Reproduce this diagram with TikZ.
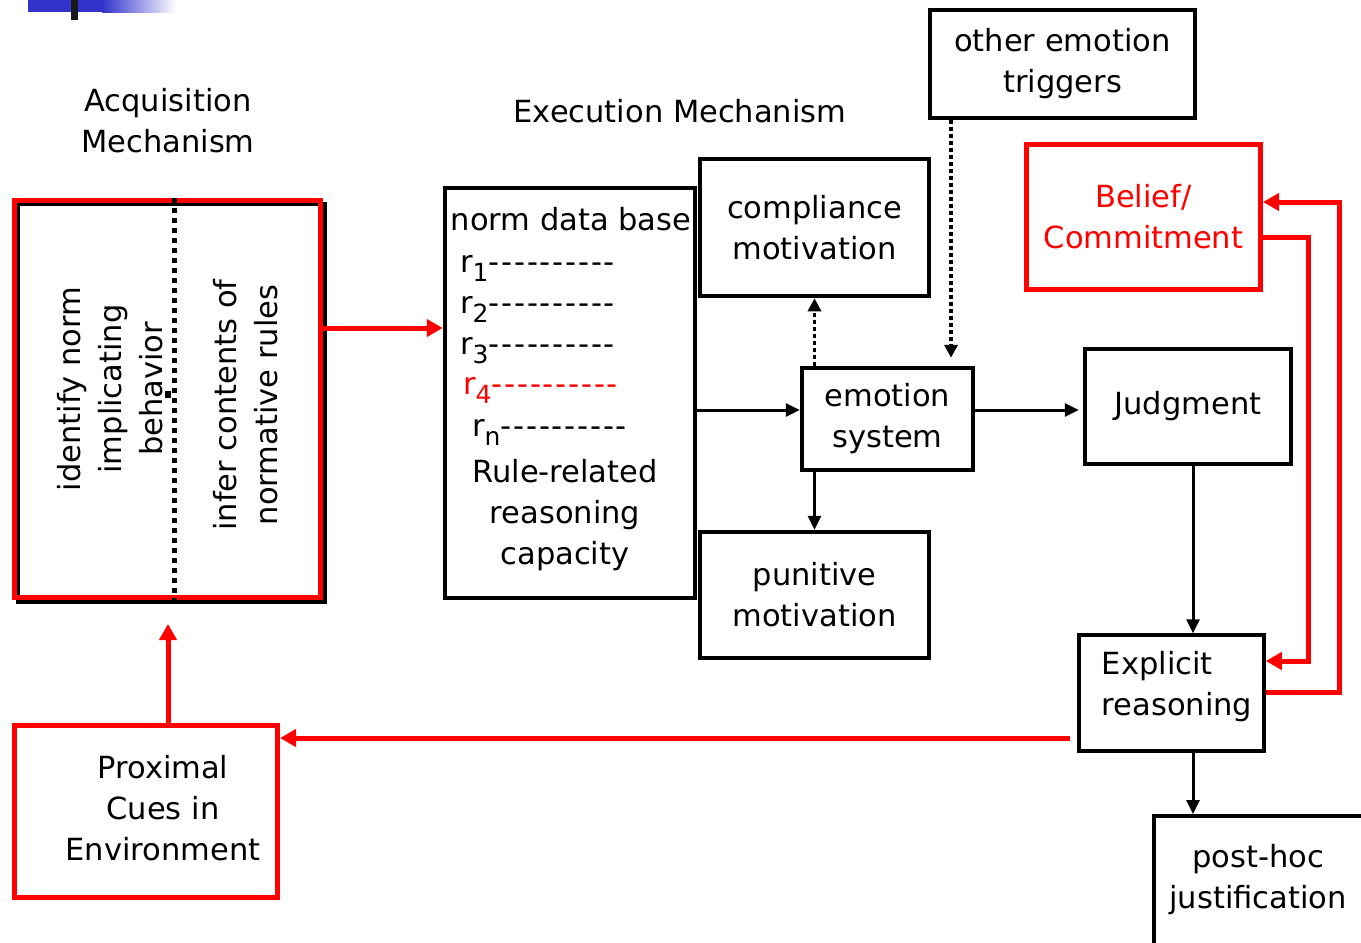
\documentclass[tikz,border=0pt]{standalone}
\usepackage{fontspec}
\setmainfont{DejaVu Sans}
\usetikzlibrary{arrows.meta}
\definecolor{slideblue}{RGB}{51,51,204}
\tikzset{
  box/.style={draw, line width=4.5pt, inner sep=0pt, align=center},
  redbox/.style={draw=red, line width=5pt, inner sep=0pt, align=center},
  arr/.style={line width=3pt, -{Triangle[length=14pt,width=13pt]}},
  redarr/.style={draw=red, line width=5pt, -{Triangle[length=16pt,width=17pt]}},
  dotarr/.style={line width=3.5pt, dash pattern=on 3.5pt off 3.5pt, -{Triangle[length=13pt,width=13pt]}},
}
\newcommand{\rsub}[1]{r\raisebox{-9pt}{\fontsize{25}{25}\selectfont #1}}
\newcommand{\rd}{-\kern1.8pt}
\newcommand{\rdash}{\rd\rd\rd\rd\rd\rd\rd\rd\rd-}

\begin{document}
\begin{tikzpicture}[x=1pt,y=-1pt,font=\fontsize{30.5}{41}\selectfont]
    \useasboundingbox (0,0) rectangle (1361,943);
    \fill[slideblue] (28,0) rectangle (102,12);%左上角的蓝条
    \shade[left color=slideblue,right color=white] (102,0) rectangle (176,12);
    \fill[black!90] (71,0) rectangle (78,20);

    \node (acqtitle) [align=center] at (168,121) {Acquisition\\Mechanism};
    \node (exetitle) at (680,111) {Execution Mechanism};

    \node (acqshadow) [box, line width=4pt, minimum width=307pt, minimum height=398pt] at (171.5,403) {};%黑色阴影框
    \node (acq) [redbox, minimum width=306pt, minimum height=397pt] at (167.5,399) {};
    \draw[line width=5pt, dash pattern=on 5pt off 5pt] (acq.north -| 174,0) -- (acq.south -| 174,0);
    \fill (165,391) rectangle (171,398);
    \node (ident) [rotate=90, align=center] at (110,389) {identify norm\\implicating\\behavior};
    \node (infer) [rotate=90, align=center] at (246,405) {infer contents of\\normative rules};

    \node (db) [box, minimum width=250pt, minimum height=410pt] at (570,393) {};
    \node (dbtitle) [anchor=base] at (571,230) {norm data base};
    \node (r1) [anchor=base west, inner sep=0pt] at (460,272) {\rsub{1}\rdash};
    \node (r2) [anchor=base west, inner sep=0pt] at (460,313) {\rsub{2}\rdash};
    \node (r3) [anchor=base west, inner sep=0pt] at (460,354) {\rsub{3}\rdash};
    \node (r4) [anchor=base west, inner sep=0pt, text=red] at (463,394) {\rsub{4}\rdash};
    \node (rn) [anchor=base west, inner sep=0pt] at (472,436) {\rsub{n}\rdash};
    \node (capacity) [align=center] at (565,515) {Rule-related\\reasoning\\capacity};

    \node (comp) [box, minimum width=229pt, minimum height=137pt] at (814.5,227.5) {compliance\\motivation};
    \node (emo) [box, minimum width=171pt, minimum height=102pt] at (887.5,419) {emotion\\system};
    \node (pun) [box, minimum width=229pt, minimum height=126pt] at (814.5,595) {punitive\\motivation};
    \node (trig) [box, minimum width=265pt, minimum height=108pt] at (1062.5,64) {other emotion\\triggers};
    \node (bel) [redbox, text=red, minimum width=234pt, minimum height=145pt] at (1143.5,217) {Belief/\\Commitment};
    \node (jud) [box, minimum width=206pt, minimum height=115pt] at (1188,406.5) {Judgment};
    \node (expl) [box, line width=3.5pt, minimum width=185pt, minimum height=116pt] at (1171.5,693) {};
    \node (expltext) [align=left] at (1177,687) {Explicit\\reasoning};
    \node (prox) [redbox, minimum width=263pt, minimum height=172pt] at (146,811.5) {};
    \node (proxtext) [align=center] at (163,808) {Proximal\\Cues in\\Environment};
    \node (post) [box, line width=3.5pt, minimum width=300pt, minimum height=200pt, anchor=north west] at (1152,814) {};%超出画面
    \node (posttext) [align=center] at (1258,880) {post-hoc\\justification};

    \draw[redarr] (acq.east |- 0,328) -- (db.west |- 0,328);
    \draw[arr] (db.east |- 0,410) -- (emo.west |- 0,410);
    \draw[dotarr] (emo.north -| comp.south) -- (comp.south);
    \draw[arr] (emo.south -| pun.north) -- (pun.north);
    \draw[dotarr, shorten >=8pt] (trig.south -| 951,0) -- (emo.north -| 951,0);
    \draw[arr, shorten >=4pt] (emo.east |- 0,410) -- (jud.west |- 0,410);
    \draw[arr] (jud.south -| 1193,0) -- (expl.north -| 1193,0);
    \draw[redarr] (bel.east |- 0,237) -| (1308,661) -- (expl.east |- 0,661);%红色回路
    \draw[redarr] (expl.east |- 0,692) -| (1339,202) -- (bel.east |- 0,202);
    \draw[redarr, shorten <=7pt] (expl.west |- 0,738) -- (prox.east |- 0,738);
    \draw[redarr, shorten >=24pt] (prox.north -| 168,0) -- (acq.south -| 168,0);
    \draw[arr] (expl.south -| 1193,0) -- (post.north -| 1193,0);
\end{tikzpicture}
\end{document}
